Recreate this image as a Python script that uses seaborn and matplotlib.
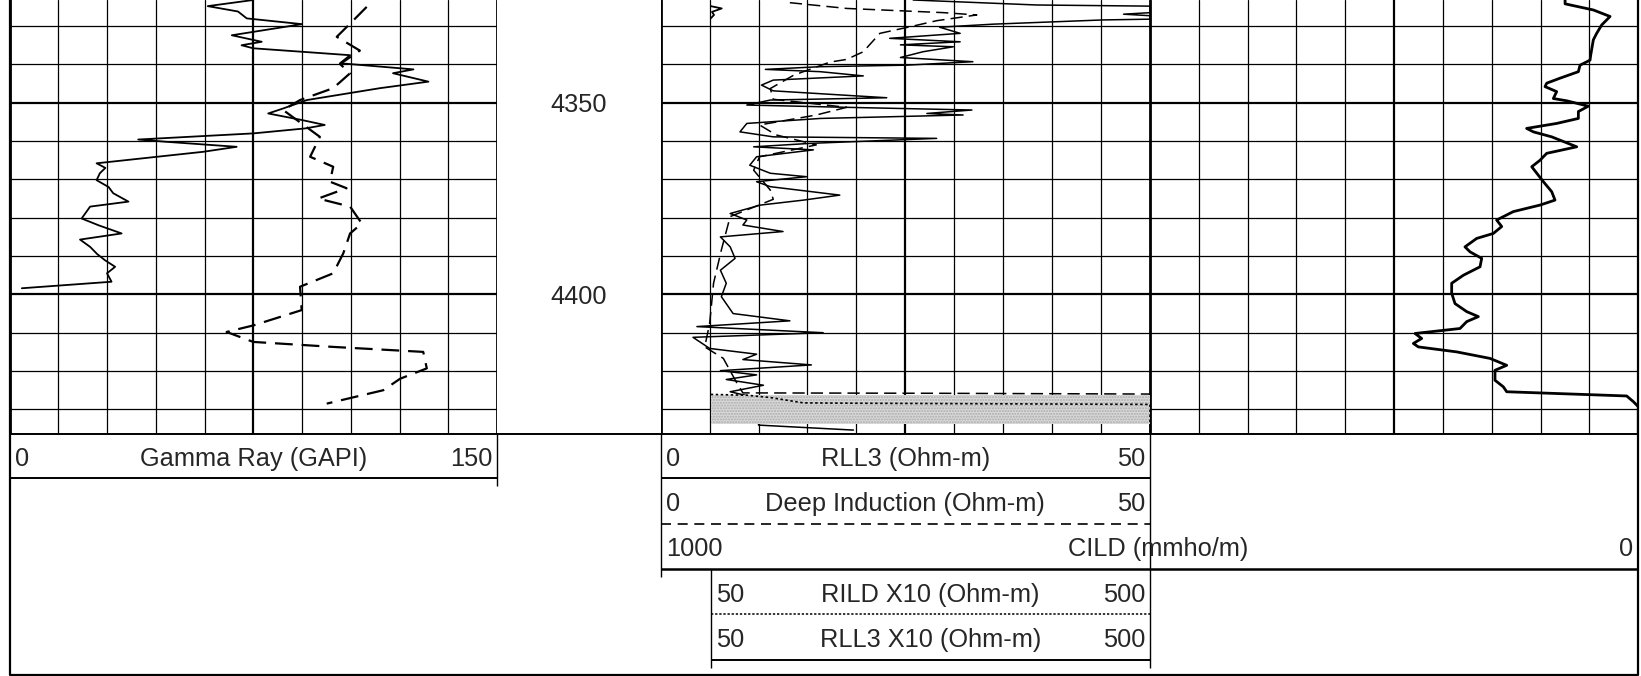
import numpy as np
import matplotlib
matplotlib.use("Agg")
import matplotlib.pyplot as plt
import seaborn as sns

# depth window shown (ft) and labelled depths
depth_top = 4323.2
depth_bottom = 4436.5
depth_labels = [4350, 4400]
depth_grid = list(range(4330, 4440, 10))

# Track 1 : gamma ray (solid) and the dashed companion curve, 0-150 GAPI
gr_depth = [4323.2, 4324.8, 4326.2, 4328.0, 4329.5, 4332.4, 4334.1, 4335.0, 4335.8,
            4337.6, 4339.7, 4341.3, 4342.3, 4344.5, 4346.2, 4349.3, 4351.5, 4352.8,
            4354.5, 4355.8, 4356.7, 4358.0, 4359.6, 4360.2, 4361.5, 4362.8, 4365.8,
            4367.0, 4368.4, 4370.2, 4372.0, 4373.6, 4375.8, 4377.1, 4380.2, 4382.0,
            4384.1, 4385.7, 4387.6, 4389.5, 4391.1, 4392.8, 4394.5, 4396.7, 4398.4]
gr_value = [75, 61, 70.3, 73, 90, 68.4, 77.6, 71.4, 75,
            104.8, 101.7, 124.3, 118, 128.9, 114, 91.5, 84.2, 79.6,
            89.9, 97, 91, 75, 39.6, 48.4, 69.9, 59.6, 26.8,
            29.5, 27.8, 26.8, 30.5, 31.9, 36.6, 24.8, 22.2, 27.5,
            34.5, 21.7, 24.8, 27.0, 29.4, 32.5, 30.0, 31.4, 3.8]

gr2_depth = [4325.0, 4328.6, 4332.8, 4336.4, 4339.9, 4342.3, 4346.2, 4349.3, 4351.9,
             4358.9, 4364.1, 4366.7, 4370.6, 4372.3, 4375.0, 4377.1, 4381.5, 4384.1,
             4389.3, 4394.5, 4398.0, 4404.1, 4408.1, 4409.8, 4412.4, 4413.7, 4415.0,
             4419.3, 4422.0, 4425.0, 4428.5]
gr2_value = [109.9, 105.7, 100.7, 107.8, 101.7, 104.8, 99.6, 89.4, 84.2,
             95.5, 92.5, 99.6, 98.6, 103.7, 95, 104.8, 108.4, 104.8,
             102.7, 99.6, 89.4, 89.9, 75, 66.8, 75, 99.6, 127.3,
             128.4, 120.2, 115, 97.6]

# Track 2 : RLL3 and deep induction, 0-50 ohm-m
rll3_depth = [4323.2, 4324.5, 4324.8, 4326.5, 4326.9, 4327.3, 4328.2, 4328.4, 4329.5,
              4330.3, 4331.9, 4333.2, 4334.1, 4334.9, 4335.4, 4336.7, 4338.2, 4339.3,
              4340.2, 4340.6, 4341.3, 4341.9, 4343.0, 4344.1, 4345.4, 4346.9, 4348.7,
              4349.3, 4350.6, 4351.2, 4351.9, 4352.8, 4353.2, 4354.1, 4355.4, 4357.6,
              4358.9, 4359.3, 4360.6, 4361.5, 4362.3, 4364.1, 4366.3, 4368.4, 4369.3,
              4370.6, 4371.9, 4374.1, 4375.4, 4376.7, 4378.9, 4380.6, 4381.9, 4383.6,
              4385.0, 4387.6, 4390.6, 4393.7, 4397.1, 4400.6, 4405.0, 4406.9, 4408.4,
              4410.0, 4411.2, 4414.1, 4415.6, 4417.0, 4418.4, 4419.9, 4421.0, 4422.2,
              4423.7, 4425.4, 4427.6, 4430.2, 4434.1, 4435.4]
rll3_value = [25.8, 38.4, 50, 50, 47.3, 50, 50, 45.2, 34,
              28.5, 30.6, 23.4, 30.6, 24.5, 29.9, 26.8, 24.5, 31.9,
              25.1, 16.3, 10.7, 16.3, 20.7, 11.5, 10.3, 11.5, 23.1,
              11.2, 8.8, 19, 31.8, 27.2, 30.9, 16.3, 8.8, 8.1,
              11.5, 28.2, 15.3, 9.5, 15.6, 9.8, 9.1, 11.2, 14.9,
              9.8, 11.2, 18.3, 14.6, 10.2, 7.1, 8.8, 8.4, 12.5,
              6.1, 7.1, 7.6, 6.1, 6.7, 6.2, 7.4, 13.2, 3.7,
              16.6, 3.3, 5.0, 9.8, 8.4, 15.4, 6.1, 9.8, 6.7,
              10.5, 7.1, 10.8, 10.0, 10.0, 19.7]

ild_depth = [4323.9, 4325.4, 4326.5, 4327.1, 4328.6, 4330.0, 4331.9, 4336.7, 4338.7,
             4339.4, 4342.8, 4346.3, 4349.1, 4351.2, 4353.2, 4355.8, 4358.4, 4361.0,
             4364.1, 4367.6, 4372.8, 4375.2, 4379.7, 4388.4, 4397.1, 4402.4, 4407.6,
             4413.7, 4416.7, 4423.2, 4425.7, 4425.8, 4426.0]
ild_value = [13.2, 19, 28.9, 32.3, 28.2, 25.8, 22.4, 20.7, 19,
             17.3, 13.6, 11.2, 11.5, 19, 15.9, 10.1, 11.8, 15.9,
             10.1, 9.5, 11.2, 11.5, 7.1, 6.2, 5.4, 5.2, 5.0,
             4.5, 6.4, 7.8, 8.4, 28.0, 50]

# backup (x10) curves, 50-500 ohm-m
rild10_depth = [4426.1, 4426.3, 4426.9, 4428.3, 4428.4, 4428.7, 4436.5]
rild10_value = [50, 86.9, 110.7, 144.9, 202.9, 500, 500]
rll310_depth = [4324.8, 4325.4, 4326.3, 4327.1, 4328.0]
rll310_value = [50, 61.3, 51.3, 53.4, 50]
shade_top = 4426.2
shade_bottom = 4433.7

# CILD, 1000-0 mmho/m across tracks 2 and 3
cild_depth = [4323.2, 4324.2, 4325.8, 4327.5, 4329.7, 4331.9, 4333.6, 4337.6, 4338.9,
              4340.2, 4341.9, 4343.6, 4344.9, 4345.8, 4347.1, 4348.9, 4349.5, 4350.9,
              4352.3, 4354.1, 4355.4, 4356.7, 4357.6, 4358.9, 4361.5, 4363.2, 4365.0,
              4366.7, 4370.6, 4373.2, 4375.4, 4376.7, 4378.4, 4380.6, 4382.3, 4384.1,
              4385.4, 4387.6, 4388.9, 4390.6, 4392.8, 4395.0, 4397.1, 4399.7, 4402.4,
              4404.5, 4405.8, 4407.1, 4408.9, 4410.2, 4411.5, 4412.8, 4413.7, 4415.0,
              4416.7, 4418.5, 4419.8, 4422.4, 4424.1, 4425.4, 4426.5, 4428.0, 4429.3,
              4436.5]
cild_value = [74.9, 74.9, 46, 28.9, 37.4, 42.6, 46, 48.7, 49.4,
              59.6, 61.3, 80.1, 93.7, 95.4, 83.5, 86.9, 73.2, 51.1,
              61.3, 61.3, 83.5, 114.2, 107.3, 88.6, 63, 93.7, 100.5,
              109, 97.1, 88.6, 85.2, 100.5, 127.8, 144.9, 139.7, 148.3,
              165.3, 177.3, 172.1, 160.2, 161.9, 178.9, 190.9, 190.9, 187.5,
              175.5, 163.6, 175.5, 182.4, 228.4, 221.6, 230.1, 225, 185.8,
              151.7, 134.6, 146.6, 146.6, 138.1, 134.6, 11.9, 5, 0,
              0]

sns.set_style("white")
plt.rcParams['font.family'] = ['Liberation Sans', 'DejaVu Sans']
FS = 18.3

W, H = 1641, 676
fig = plt.figure(figsize=(W / 100, H / 100), dpi=100)

# pixel layout
t1 = (9.5, 497.0)
t2 = (660.7, 1150.0)
t3 = (1150.0, 1638.3)
x10 = (710.7, 1150.0)
track_bottom = 434.3


def px_axes(x0, x1, y0, y1, z=1):
    return fig.add_axes([x0 / W, 1 - y1 / H, (x1 - x0) / W, (y1 - y0) / H], zorder=z)


def grid_track(ax, lo, hi):
    for i, v in enumerate(np.linspace(lo, hi, 11)):
        lw = 1.6 if i == 5 else 0.9
        if i in (0, 10):
            lw = 2.0
        ax.axvline(v, color='black', lw=lw, zorder=1)
    for d in depth_grid:
        ax.axhline(d, color='black', lw=1.6 if d % 50 == 0 else 0.9, zorder=1)
    ax.set_xlim(lo, hi)
    ax.set_ylim(depth_bottom, depth_top)
    ax.set_xticks([])
    ax.set_yticks([])
    for s in ax.spines.values():
        s.set_visible(False)
    ax.patch.set_alpha(0)


# track 1
ax1 = px_axes(*t1, 0, track_bottom)
grid_track(ax1, 0, 150)
sns.lineplot(x=gr_value, y=gr_depth, sort=False, estimator=None, ax=ax1,
             color='black', lw=1.3, zorder=3)
sns.lineplot(x=gr2_value, y=gr2_depth, sort=False, estimator=None, ax=ax1,
             color='black', lw=1.6, linestyle=(0, (8, 4)), zorder=3)

# track 2
ax2 = px_axes(*t2, 0, track_bottom)
grid_track(ax2, 0, 50)
sns.lineplot(x=rll3_value, y=rll3_depth, sort=False, estimator=None, ax=ax2,
             color='black', lw=1.1, zorder=3)
sns.lineplot(x=ild_value, y=ild_depth, sort=False, estimator=None, ax=ax2,
             color='black', lw=1.1, linestyle=(0, (8, 4)), zorder=3)

# backup x10 scale
axb = px_axes(*x10, 0, track_bottom, z=2)
axb.fill_betweenx([shade_top, shade_bottom], 50, 500, facecolor='#d9d9d9',
                  hatch='......', edgecolor='#ababab', lw=0, zorder=0)
sns.lineplot(x=rild10_value, y=rild10_depth, sort=False, estimator=None, ax=axb,
             color='black', lw=1.2, linestyle=(0, (1.5, 1.5)), zorder=3)
sns.lineplot(x=rll310_value, y=rll310_depth, sort=False, estimator=None, ax=axb,
             color='black', lw=1.3, zorder=3)
axb.set_xlim(50, 500)
axb.set_ylim(depth_bottom, depth_top)
axb.axis('off')

# track 3
ax3 = px_axes(*t3, 0, track_bottom)
grid_track(ax3, 0, 10)

# CILD across tracks 2 and 3
axc = px_axes(t2[0], t3[1], 0, track_bottom, z=3)
sns.lineplot(x=cild_value, y=cild_depth, sort=False, estimator=None, ax=axc,
             color='black', lw=2.0, zorder=3)
axc.set_xlim(1000, 0)
axc.set_ylim(depth_bottom, depth_top)
axc.axis('off')

# overlay in pixel coordinates for frame, headers and depth labels
ov = fig.add_axes([0, 0, 1, 1], zorder=5)
ov.set_xlim(0, W)
ov.set_ylim(H, 0)
ov.axis('off')
ov.patch.set_alpha(0)

ax_depth = px_axes(t1[1], t2[0], 0, track_bottom, z=4)
ax_depth.set_ylim(depth_bottom, depth_top)
ax_depth.set_xlim(0, 1)
ax_depth.axis('off')
for d in depth_labels:
    ax_depth.text(0.5, d, str(d), ha='center', va='center_baseline', fontsize=FS)

k = dict(color='black', solid_capstyle='butt')
ov.plot([t1[0], t3[1]], [track_bottom, track_bottom], lw=1.4, **k)
ov.plot([t1[0], t1[0], t3[1], t3[1]], [0, 675, 675, 0], lw=1.6, **k)
# header boxes
ov.plot([t1[1], t1[1]], [track_bottom, 486], lw=1.0, **k)
ov.plot([t1[0], t1[1]], [478.3, 478.3], lw=1.4, **k)
ov.plot([t2[0], t2[0]], [track_bottom, 577], lw=1.0, **k)
ov.plot([t2[1], t2[1]], [track_bottom, 668], lw=1.0, **k)
ov.plot([x10[0], x10[0]], [569.3, 668], lw=1.0, **k)
ov.plot([t2[0], t2[1]], [478.3, 478.3], lw=1.4, **k)
ov.plot([t2[0], t2[1]], [524, 524], lw=1.2, linestyle=(0, (6, 4)), **k)
ov.plot([t2[0], t3[1]], [569.3, 569.3], lw=1.8, **k)
ov.plot([x10[0], x10[1]], [614.3, 614.3], lw=1.1, linestyle=(0, (1.5, 1.2)), **k)
ov.plot([x10[0], x10[1]], [660, 660], lw=1.4, **k)


def header(x0, x1, y, lo, title, hi, cx=None):
    ov.text(x0 + 5, y, lo, ha='left', va='center', fontsize=FS)
    ov.text(x1 - 5, y, hi, ha='right', va='center', fontsize=FS)
    ov.text((x0 + x1) / 2 if cx is None else cx, y, title, ha='center', va='center', fontsize=FS)


header(*t1, 459.0, '0', 'Gamma Ray (GAPI)', '150')
header(*t2, 459.0, '0', 'RLL3 (Ohm-m)', '50')
header(*t2, 504.0, '0', 'Deep Induction (Ohm-m)', '50')
header(t2[0], t3[1], 549.0, '1000', 'CILD (mmho/m)', '0', cx=1158)
header(*x10, 595.0, '50', 'RILD X10 (Ohm-m)', '500')
header(*x10, 640.0, '50', 'RLL3 X10 (Ohm-m)', '500')

fig.savefig('out.png', dpi=100)
